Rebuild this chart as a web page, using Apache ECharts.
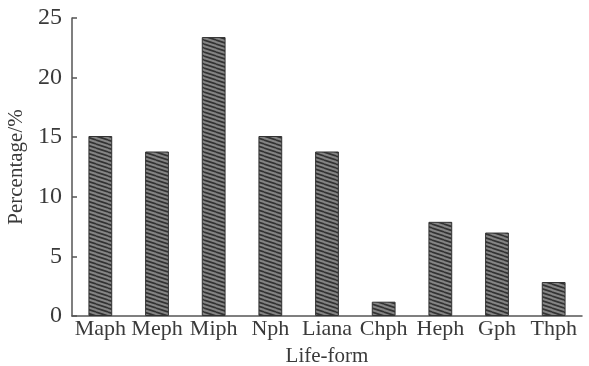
<!DOCTYPE html>
<html>
<head>
<meta charset="utf-8">
<script src="https://cdn.jsdelivr.net/npm/echarts@6/dist/echarts.min.js"></script>
<style>
html,body{margin:0;padding:0;background:#fff;}
#chart{width:589px;height:366px;}
</style>
</head>
<body>
<div id="chart"></div>
<script>
const categories = ['Maph','Meph','Miph','Nph','Liana','Chph','Heph','Gph','Thph'];
const percentages = [15.1, 13.8, 23.4, 15.1, 13.8, 1.2, 7.9, 7.0, 2.85];
const yTicks = [0, 5, 10, 15, 20, 25];

function hatch() {
  const c = document.createElement('canvas');
  c.width = 12; c.height = 4;
  const g = c.getContext('2d');
  g.fillStyle = '#858585';
  g.fillRect(0, 0, 12, 4);
  g.strokeStyle = '#333';
  g.lineWidth = 1.7;
  for (const off of [-4, 0, 4]) {
    g.beginPath();
    g.moveTo(0, off);
    g.lineTo(12, off + 4);
    g.stroke();
  }
  return c;
}

const font = '"Liberation Serif", "Times New Roman", serif';
const chart = echarts.init(document.getElementById('chart'));
chart.setOption({
  animation: false,
  grid: {left: 72, right: 7, top: 18, bottom: 50, containLabel: false, outerBoundsMode: 'none'},
  xAxis: {
    type: 'category',
    data: categories,
    name: 'Life-form',
    nameLocation: 'middle',
    nameGap: 30,
    nameTextStyle: {fontFamily: font, fontSize: 21, color: '#3a3a3a'},
    axisLine: {lineStyle: {color: '#555', width: 1.5}},
    axisTick: {inside: true, length: 5, lineStyle: {color: '#555', width: 1.5}},
    axisLabel: {fontFamily: font, fontSize: 22, color: '#3a3a3a', margin: 2, interval: 0}
  },
  yAxis: {
    type: 'value',
    min: 0, max: 25, interval: 5,
    name: 'Percentage/%',
    nameLocation: 'middle',
    nameGap: 44,
    nameTextStyle: {fontFamily: font, fontSize: 21, color: '#3a3a3a'},
    axisLine: {show: true, lineStyle: {color: '#555', width: 1.5}},
    axisTick: {show: true, inside: true, length: 5, lineStyle: {color: '#555', width: 1.5}},
    axisLabel: {fontFamily: font, fontSize: 24, color: '#3a3a3a', margin: 10,
      formatter: v => yTicks.includes(v) ? String(v) : ''},
    splitLine: {show: false}
  },
  series: [{
    type: 'bar',
    data: percentages,
    barCategoryGap: '58%',
    itemStyle: {
      color: {image: hatch(), repeat: 'repeat'},
      borderColor: '#333',
      borderWidth: 1
    }
  }]
});
</script>
</body>
</html>
